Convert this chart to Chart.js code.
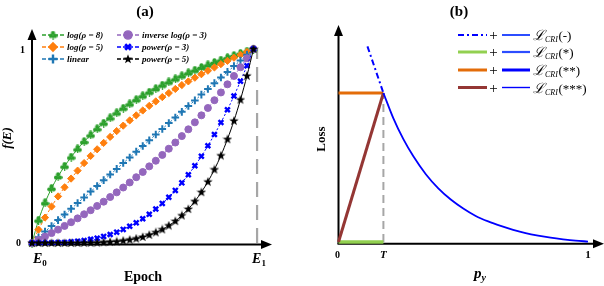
<!DOCTYPE html>
<html><head><meta charset="utf-8">
<script src="https://cdn.jsdelivr.net/npm/chart.js@4.4.1/dist/chart.umd.min.js"></script>
<style>
html,body{margin:0;padding:0;background:#fff;width:604px;height:286px;overflow:hidden}
#wa{position:absolute;left:0;top:0;width:302px;height:286px}
#wb{position:absolute;left:302px;top:0;width:302px;height:286px}
</style></head><body>
<div id="wa"><canvas id="ca"></canvas></div>
<div id="wb"><canvas id="cb"></canvas></div>
<script>
// ---------- Panel (a) data ----------
const epochs = Array.from({length:35},(_,i)=>i);
const E1 = 34.55;
const logRho8   = [0,.118,.208,.282,.343,.396,.443,.485,.523,.557,.589,.618,.645,.671,.695,.717,.739,.759,.778,.796,.814,.830,.846,.862,.877,.891,.905,.918,.931,.943,.955,.967,.978,.989,1];
const logRho5   = [0,.069,.131,.188,.240,.287,.332,.373,.412,.449,.483,.516,.547,.577,.605,.632,.658,.683,.707,.730,.752,.773,.794,.814,.833,.852,.870,.888,.905,.922,.939,.955,.970,.985,1];
const linearV   = [0,.029,.059,.088,.118,.147,.176,.206,.235,.265,.294,.324,.353,.382,.412,.441,.471,.5,.529,.559,.588,.618,.647,.676,.706,.735,.765,.794,.824,.853,.882,.912,.941,.971,1];
const invLog3   = [0,.016,.033,.051,.069,.088,.107,.127,.148,.169,.191,.213,.237,.261,.286,.312,.339,.366,.395,.424,.454,.486,.518,.551,.586,.622,.658,.696,.736,.776,.818,.861,.906,.952,1];
const power3    = [0,0,0,.001,.002,.003,.006,.009,.013,.019,.025,.034,.044,.056,.070,.086,.104,.125,.148,.175,.204,.236,.271,.310,.352,.398,.447,.501,.559,.621,.687,.758,.834,.914,1];
const power5    = [0,0,0,0,0,0,0,0,.001,.001,.002,.004,.006,.008,.012,.017,.023,.031,.042,.055,.070,.090,.113,.142,.175,.215,.262,.316,.379,.451,.535,.630,.739,.862,1];
const seriesLabelsA = ['log(ρ = 8)','log(ρ = 5)','linear','inverse log(ρ = 3)','power(ρ = 3)','power(ρ = 5)'];
const yTicksA = ['0','1'];

// ---------- Panel (b) data ----------
const T = 0.18;
const lossAtT = 1;
const dashDotStart = [0.116, 1.313];
const pyVals   = [0.18,0.22,0.26,0.30,0.35,0.40,0.45,0.50,0.55,0.60,0.65,0.70,0.75,0.80,0.85,0.90,0.95,1.0];
const lossVals = [1.00,0.83,0.69,0.575,0.455,0.36,0.285,0.225,0.175,0.138,0.108,0.082,0.060,0.043,0.029,0.018,0.009,0.003];
const legendLabelsB = ['(-)','(*)','(**)','(***)'];

const SERIF = "'Liberation Serif','DejaVu Serif',serif";
const pts = arr => epochs.map((e,i)=>({x:e,y:arr[i]}));

// custom markers
function mk(size, fn){const c=document.createElement('canvas');c.width=size;c.height=size;const g=c.getContext('2d');fn(g,size);return c;}
const club = mk(9,(g)=>{g.fillStyle='#2ca02c';[[4.5,2.4],[2.3,5.6],[6.7,5.6]].forEach(p=>{g.beginPath();g.arc(p[0],p[1],2.1,0,Math.PI*2);g.fill();});g.fillRect(4,4.5,1.2,4.5);});
const star = mk(10,(g)=>{g.fillStyle='#000';g.beginPath();for(let k=0;k<10;k++){const r=k%2?2:5;const a=-Math.PI/2+k*Math.PI/5;g.lineTo(5+r*Math.cos(a),5.2+r*Math.sin(a));}g.closePath();g.fill();});

const styleA = [
 {c:'#2ca02c', ps:club, r:4, bw:1, dash:[]},
 {c:'#ff7f0e', ps:'rectRot', r:3.6, bw:1, dash:[3,2]},
 {c:'#1f77b4', ps:'cross', r:3.8, bw:2, dash:[2,2]},
 {c:'#9467bd', ps:'circle', r:3.5, bw:1, dash:[3,2]},
 {c:'#0000ff', ps:'crossRot', r:3.4, bw:2.4, dash:[2,2]},
 {c:'#000000', ps:star, r:5, bw:1, dash:[]}
];
const dataA = [logRho8, logRho5, linearV, invLog3, power3, power5];

function arrow(ctx,x,y,dir){ctx.beginPath();
 if(dir==='up'){ctx.moveTo(x,y);ctx.lineTo(x-4.5,y+11);ctx.lineTo(x+4.5,y+11);}
 else {ctx.moveTo(x,y);ctx.lineTo(x-11,y-4.5);ctx.lineTo(x-11,y+4.5);}
 ctx.closePath();ctx.fill();}
function subText(ctx,x,y,main,sub,fm,fs,align){
 ctx.font=fm;const w1=ctx.measureText(main).width;ctx.font=fs;const w2=ctx.measureText(sub).width;
 let sx=x; if(align==='center') sx=x-(w1+w2)/2;
 ctx.textAlign='left';ctx.font=fm;ctx.fillText(main,sx,y);ctx.font=fs;ctx.fillText(sub,sx+w1,y+3);}

const axesA = {id:'axesA',
 beforeDatasetsDraw(chart){const ctx=chart.ctx,xs=chart.scales.x,ys=chart.scales.y;
  const x0=xs.getPixelForValue(0), y0=ys.getPixelForValue(0)+1.5;
  ctx.save();ctx.strokeStyle='#000';ctx.fillStyle='#000';ctx.lineWidth=2;
  ctx.beginPath();ctx.moveTo(x0,y0);ctx.lineTo(x0,36);ctx.stroke();arrow(ctx,x0,29,'up');
  ctx.beginPath();ctx.moveTo(x0-1,y0);ctx.lineTo(265,y0);ctx.stroke();arrow(ctx,272,y0,'right');
  ctx.restore();},
 afterDraw(chart){const ctx=chart.ctx,xs=chart.scales.x,ys=chart.scales.y;
  ctx.save();ctx.fillStyle='#000';ctx.textBaseline='alphabetic';
  ctx.font='bold 15px '+SERIF;ctx.textAlign='center';ctx.fillText('(a)',145,16);
  ctx.font='bold 10px '+SERIF;ctx.textAlign='right';
  ctx.fillText(yTicksA[1],25,ys.getPixelForValue(1)+4);ctx.fillText(yTicksA[0],21,ys.getPixelForValue(0)+3);
  subText(ctx,xs.getPixelForValue(0)+1,263,'E','0','italic bold 14px '+SERIF,'bold 9px '+SERIF,'left');
  subText(ctx,xs.getPixelForValue(E1)-5,263,'E','1','italic bold 14px '+SERIF,'bold 9px '+SERIF,'left');
  ctx.font='bold 14px '+SERIF;ctx.textAlign='center';ctx.fillText('Epoch',143,281);
  ctx.save();ctx.translate(11,138);ctx.rotate(-Math.PI/2);ctx.font='italic bold 13px '+SERIF;ctx.textAlign='center';ctx.fillText('f(E)',0,0);ctx.restore();
  // legend
  const cols=[[42,64,67],[117,139,142]], rows=[35,47,59];
  for(let k=0;k<6;k++){const col=cols[Math.floor(k/3)], y=rows[k%3], s=styleA[k];
   ctx.save();ctx.strokeStyle=s.c;ctx.fillStyle=s.c;ctx.lineWidth=1.3;ctx.setLineDash([4,2]);ctx.beginPath();ctx.moveTo(col[0],y);ctx.lineTo(col[1],y);ctx.stroke();ctx.setLineDash([]);
   const cx=(col[0]+col[1])/2;
   if(typeof s.ps!=='string'){ctx.drawImage(s.ps,cx-s.ps.width/2,y-s.ps.height/2);}
   else {ctx.lineWidth=s.bw+0.4;Chart.helpers.drawPoint(ctx,{pointStyle:s.ps,radius:s.r+0.6,borderWidth:s.bw+0.4},cx,y);}
   ctx.restore();
   ctx.font='italic bold 9px '+SERIF;ctx.textAlign='left';ctx.fillStyle='#000';ctx.fillText(seriesLabelsA[k],col[2],y+3);}
  ctx.restore();}
};

new Chart(document.getElementById('ca'),{
 type:'line',
 data:{datasets:[
  ...dataA.map((arr,k)=>({label:seriesLabelsA[k],data:pts(arr),borderColor:styleA[k].c,backgroundColor:styleA[k].c,
    borderWidth:1,borderDash:styleA[k].dash,pointStyle:styleA[k].ps,pointRadius:styleA[k].r,pointBorderWidth:styleA[k].bw,
    pointBorderColor:styleA[k].c,pointBackgroundColor:styleA[k].c,tension:0.3,clip:false,order:6-k})),
  {label:'E1',data:[{x:E1,y:0},{x:E1,y:1.005}],borderColor:'#a6a6a6',borderWidth:2.2,borderDash:[15,8],pointRadius:0,clip:false,order:10}
 ]},
 options:{responsive:true,maintainAspectRatio:false,animation:false,events:[],
  layout:{padding:{left:32,right:48.5,top:49,bottom:43}},
  scales:{x:{type:'linear',display:false,min:0,max:34},y:{type:'linear',display:false,min:0,max:1}},
  plugins:{legend:{display:false},tooltip:{enabled:false}}},
 plugins:[axesA]
});

// ---------- Panel (b) ----------
const axesB = {id:'axesB',
 beforeDatasetsDraw(chart){const ctx=chart.ctx,xs=chart.scales.x,ys=chart.scales.y;
  const x0=xs.getPixelForValue(0), y0=ys.getPixelForValue(0)+1.8;
  ctx.save();ctx.strokeStyle='#000';ctx.fillStyle='#000';ctx.lineWidth=2;
  ctx.beginPath();ctx.moveTo(x0,y0);ctx.lineTo(x0,32);ctx.stroke();arrow(ctx,x0,25,'up');
  ctx.beginPath();ctx.moveTo(x0-1,y0);ctx.lineTo(295,y0);ctx.stroke();arrow(ctx,302,y0,'right');
  ctx.restore();},
 afterDraw(chart){const ctx=chart.ctx,xs=chart.scales.x,ys=chart.scales.y;
  ctx.save();ctx.fillStyle='#000';
  ctx.font='bold 15px '+SERIF;ctx.textAlign='center';ctx.fillText('(b)',157,16);
  ctx.font='bold 10px '+SERIF;ctx.fillText('0',xs.getPixelForValue(0)-1,258);
  ctx.font='italic bold 11px '+SERIF;ctx.fillText('T',xs.getPixelForValue(T),258);
  ctx.font='bold 11px '+SERIF;ctx.fillText('1',xs.getPixelForValue(1),258);
  subText(ctx,178,278,'p','y','italic bold 15px '+SERIF,'italic bold 10px '+SERIF,'center');
  ctx.save();ctx.translate(23,139);ctx.rotate(-Math.PI/2);ctx.font='bold 13px '+SERIF;ctx.textAlign='center';ctx.fillText('Loss',0,0);ctx.restore();
  // legend
  const rows=[35,52,70,87.5];
  const first=[{c:'#0000ff',w:1.8,d:[6,3,2,3]},{c:'#92d050',w:3,d:[]},{c:'#e36c09',w:3,d:[]},{c:'#943634',w:3,d:[]}];
  const second=[{w:2,c:'#2c4dff'},{w:2.2,c:'#2c4dff'},{w:3,c:'#0000ff'},{w:1.4,c:'#0000ff'}];
  for(let k=0;k<4;k++){const y=rows[k];
   ctx.strokeStyle=first[k].c;ctx.lineWidth=first[k].w;ctx.setLineDash(first[k].d);ctx.beginPath();ctx.moveTo(156,y);ctx.lineTo(185,y);ctx.stroke();ctx.setLineDash([]);
   ctx.fillStyle='#000';ctx.font='15px '+SERIF;ctx.textAlign='center';ctx.fillText('+',191.5,y+5);
   ctx.strokeStyle=second[k].c;ctx.lineWidth=second[k].w;ctx.beginPath();ctx.moveTo(200,y);ctx.lineTo(228,y);ctx.stroke();
   ctx.textAlign='left';ctx.font='italic 14px '+SERIF;ctx.fillText('ℒ',231,y+5);const w=ctx.measureText('ℒ').width;
   ctx.font='italic 8px '+SERIF;ctx.fillText('CRI',231+w,y+7);const w2=ctx.measureText('CRI').width;
   ctx.font='13px '+SERIF;ctx.fillText(legendLabelsB[k],231+w+w2+0.5,y+5);}
  ctx.restore();}
};

new Chart(document.getElementById('cb'),{
 type:'line',
 data:{datasets:[
  {data:[{x:T,y:0},{x:T,y:lossAtT}],borderColor:'#a6a6a6',borderWidth:2,borderDash:[8,5],pointRadius:0,clip:false,order:9},
  {data:[{x:0,y:0},{x:T,y:0}],borderColor:'#92d050',borderWidth:3.5,pointRadius:0,clip:false,order:3},
  {data:[{x:0,y:lossAtT},{x:T,y:lossAtT}],borderColor:'#e36c09',borderWidth:3,pointRadius:0,clip:false,order:4},
  {data:[{x:0,y:0},{x:T,y:lossAtT}],borderColor:'#943634',borderWidth:3,pointRadius:0,clip:false,order:2},
  {data:[{x:dashDotStart[0],y:dashDotStart[1]},{x:T,y:lossAtT}],borderColor:'#0000ff',borderWidth:2,borderDash:[6,3,2,3],pointRadius:0,clip:false,order:1},
  {data:pyVals.map((v,i)=>({x:v,y:lossVals[i]})),borderColor:'#0000ff',borderWidth:1.8,pointRadius:0,cubicInterpolationMode:'monotone',clip:false,order:1}
 ]},
 options:{responsive:true,maintainAspectRatio:false,animation:false,events:[],
  layout:{padding:{left:36.5,right:16,top:93,bottom:44}},
  scales:{x:{type:'linear',display:false,min:0,max:1},y:{type:'linear',display:false,min:0,max:1}},
  plugins:{legend:{display:false},tooltip:{enabled:false}}},
 plugins:[axesB]
});
</script>
</body></html>
